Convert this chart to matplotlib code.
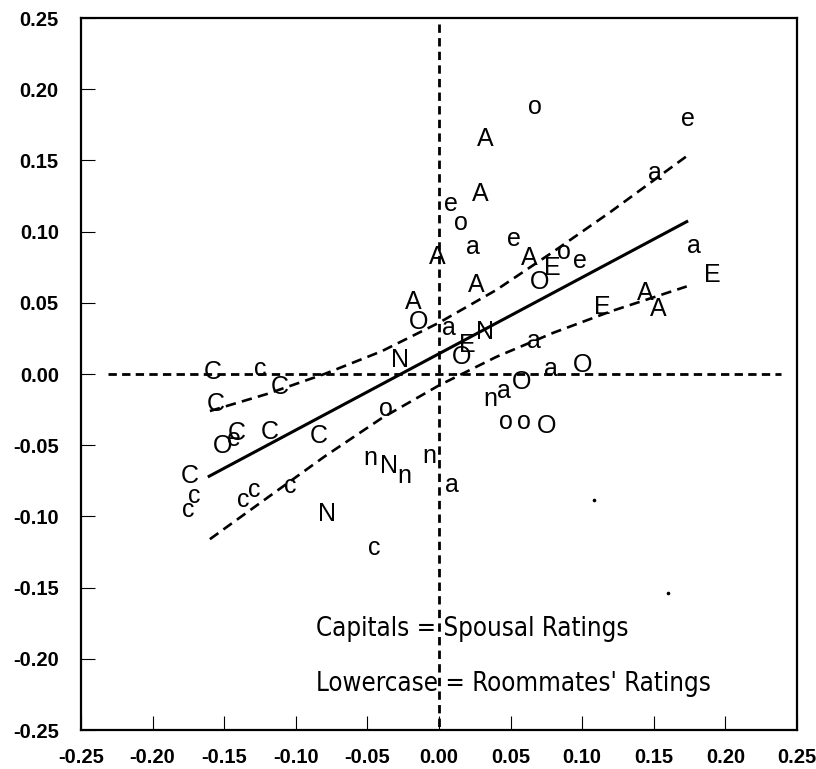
import numpy as np
import matplotlib
matplotlib.use("Agg")
import matplotlib.pyplot as plt
from matplotlib import font_manager
import matplotlib.transforms as mtransforms

plt.rcParams['axes.unicode_minus'] = False
plt.rcParams['lines.scale_dashes'] = False

# letter markers (ink centres)
C_x = [-0.158, -0.111, -0.156, -0.141, -0.118, -0.084, -0.174]
C_y = [0.003, -0.008, -0.020, -0.040, -0.039, -0.042, -0.070]
c_x = [-0.125, -0.171, -0.175, -0.137, -0.129, -0.104, -0.045]
c_y = [0.003, -0.086, -0.096, -0.089, -0.082, -0.079, -0.1225]
O_x = [-0.151, -0.014, 0.016, 0.100, 0.058, 0.075, 0.070]
O_y = [-0.049, 0.038, 0.013, 0.0075, -0.004, -0.035, 0.066]
o_x = [-0.037, 0.047, 0.059, 0.067, 0.015, 0.087]
o_y = [-0.025, -0.034, -0.034, 0.187, 0.1056, 0.0854]
N_x = [-0.078, -0.027, 0.032, -0.035]
N_y = [-0.097, 0.011, 0.031, -0.063]
n_x = [0.036, -0.048, -0.024, -0.007]
n_y = [-0.018, -0.059, -0.072, -0.058]
A_x = [0.032, 0.029, -0.001, 0.063, 0.026, -0.018, 0.144, 0.153]
A_y = [0.1666, 0.128, 0.0838, 0.0826, 0.0638, 0.052, 0.058, 0.0474]
a_x = [0.007, 0.066, 0.078, 0.045, 0.009, 0.0235, 0.151, 0.178]
a_y = [0.032, 0.0227, 0.003, -0.0125, -0.078, 0.0885, 0.141, 0.0896]
E_x = [0.0197, 0.079, 0.1906, 0.114]
E_y = [0.0216, 0.0755, 0.0709, 0.0486]
e_x = [0.008, 0.052, 0.0986, 0.174, -0.143]
e_y = [0.119, 0.0943, 0.079, 0.179, -0.046]

groups = [("C", C_x, C_y), ("c", c_x, c_y), ("O", O_x, O_y), ("o", o_x, o_y),
          ("N", N_x, N_y), ("n", n_x, n_y), ("A", A_x, A_y), ("a", a_x, a_y),
          ("E", E_x, E_y), ("e", e_x, e_y)]

# stray specks
dot_x = [0.108, 0.160]
dot_y = [-0.0887, -0.154]

# regression line and confidence band
fit_x = [-0.1605, 0.173]
fit_y = [-0.0718, 0.107]
band_x = [-0.160, -0.120, -0.080, -0.040, 0.0, 0.040, 0.080, 0.120, 0.173]
upper_y = [-0.026, -0.014, 0.000, 0.016, 0.036, 0.059, 0.086, 0.114, 0.153]
lower_y = [-0.116, -0.087, -0.058, -0.031, -0.008, 0.012, 0.029, 0.044, 0.0615]

ticks = [-0.25, -0.20, -0.15, -0.10, -0.05, 0.00, 0.05, 0.10, 0.15, 0.20, 0.25]
tick_labels = ["%.2f" % t for t in ticks]

# narrow font for the note if one is installed
narrow = None
for f in font_manager.fontManager.ttflist:
    if f.weight not in (400, "normal", "regular", "book"):
        continue
    if "Italic" in f.name or f.style != "normal":
        continue
    if "Narrow" in f.name or "Condensed" in f.name or f.stretch in ("condensed", "semi-condensed"):
        if narrow is None or "Liberation" in f.name:
            narrow = f
if narrow is not None:
    note_font = font_manager.FontProperties(fname=narrow.fname, size=18.5)
else:
    note_font = font_manager.FontProperties(family="Liberation Sans", size=16)

fig = plt.figure(figsize=(8.16, 7.69), dpi=100)
ax = fig.add_axes([81 / 816, 1 - 730 / 769, 716 / 816, 712 / 769])
ax.set_xlim(-0.25, 0.25)
ax.set_ylim(-0.25, 0.25)

ax.plot([-0.231, 0.239], [0, 0], color="black", lw=2.0, dashes=(6, 3.8))
ax.plot([0, 0], [0.246, -0.25], color="black", lw=2.0, dashes=(6, 3.8))

ax.plot(fit_x, fit_y, color="black", lw=2.2)
ax.plot(band_x, upper_y, color="black", lw=1.9, dashes=(7.5, 4.5))
ax.plot(band_x, lower_y, color="black", lw=1.9, dashes=(7.5, 4.5))

ax.plot(dot_x, dot_y, "o", color="black", ms=1.6)

fs = 18
for lab, xs, ys in groups:
    half = 0.72 * fs / 2 if lab.isupper() else 0.52 * fs / 2
    tr = mtransforms.offset_copy(ax.transData, fig=fig, x=0, y=-half, units="points")
    for x, y in zip(xs, ys):
        ax.text(x, y, lab, transform=tr, ha="center", va="baseline",
                fontsize=fs, family="Liberation Sans")

ax.text(-0.0858, -0.184, "Capitals = Spousal Ratings", fontproperties=note_font, va="baseline")
ax.text(-0.0858, -0.2225, "Lowercase = Roommates' Ratings", fontproperties=note_font, va="baseline")

ax.set_xticks(ticks)
ax.set_yticks(ticks)
ax.set_xticklabels(tick_labels)
ax.set_yticklabels(tick_labels)
ax.tick_params(direction="in", length=10, width=0.8, labelsize=14.5)
ax.tick_params(axis="y", pad=16)
ax.tick_params(axis="x", pad=13)
for lab in ax.get_xticklabels() + ax.get_yticklabels():
    lab.set_fontweight("bold")
    lab.set_family("Liberation Sans")
for s in ax.spines.values():
    s.set_linewidth(1.6)

fig.savefig("out.png", dpi=100)
